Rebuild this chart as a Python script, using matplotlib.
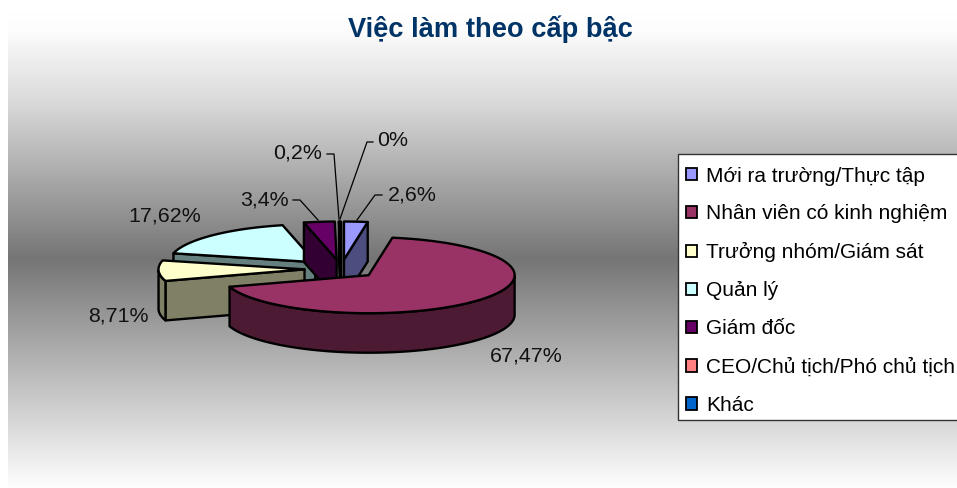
import numpy as np
import matplotlib
matplotlib.use('Agg')
import matplotlib.pyplot as plt
from matplotlib.patches import Polygon, Patch, Rectangle

plt.rcParams['font.family'] = ['Liberation Sans', 'DejaVu Sans']

# ── Data ──────────────────────────────────────────────────────────────────────
categories = ['Mới ra trường/Thực tập', 'Nhân viên có kinh nghiệm',
              'Trưởng nhóm/Giám sát', 'Quản lý', 'Giám đốc',
              'CEO/Chủ tịch/Phó chủ tịch', 'Khác']
values = [2.6, 67.47, 8.71, 17.62, 3.4, 0.2, 0.0]
value_labels = ['2,6%', '67,47%', '8,71%', '17,62%', '3,4%', '0,2%', '0%']
colors = ['#9999FF', '#993366', '#FFFFCC', '#CCFFFF', '#660066', '#FF8080', '#0066CC']
sides = ['#4D4D80', '#4D1A33', '#808066', '#668080', '#330033', '#000000', '#003366']

# ── Layout (pixels, y downward) ───────────────────────────────────────────────
W, H = 957, 488
CX, CY = 341, 269
RX, RY = 146, 38
DEPTH = 39.5
EXPLODE = 0.25
LABEL_SIZE = 15.4
LEGEND_SIZE = 15.0

fig = plt.figure(figsize=(W / 100, H / 100), dpi=100)
ax = fig.add_axes([0, 0, 1, 1])

# background gradient, white at top and bottom, grey in the middle
ys = np.arange(12, H)
grad = np.interp(ys, [12, 30, 50, 100, 258, 380, 487],
                 [254, 252, 241, 218, 117, 190, 253]).reshape(-1, 1)
ax.imshow(grad, cmap='gray', vmin=0, vmax=255, aspect='auto',
          extent=(8, W, H, 12), zorder=0)
ax.set_xlim(0, W)
ax.set_ylim(H, 0)
ax.axis('off')


def pt(cx, cy, a):
    return cx + RX * np.sin(a), cy - RY * np.cos(a)


# ── Pie slices from the values ────────────────────────────────────────────────
edges = np.radians(np.concatenate([[0], np.cumsum(values)]) * 3.6)
slices = []
for i, v in enumerate(values):
    a0, a1 = edges[i], edges[i + 1]
    mid = (a0 + a1) / 2
    cx = CX + EXPLODE * RX * np.sin(mid)
    cy = CY - EXPLODE * RY * np.cos(mid)
    slices.append((i, a0, a1, cx, cy))

# back slices first, front ones over them
draw_order = [3, 4, 5, 0, 2, 1]
z = 2
for i, a0, a1, cx, cy in [slices[k] for k in draw_order]:
    arc = np.linspace(a0, a1, max(int(np.degrees(a1 - a0)), 2))
    ax_, ay_ = pt(cx, cy, arc)
    ec = dict(edgecolor='black', linewidth=1.7, joinstyle='round')

    # cut faces that look towards the viewer
    for a, show in ((a0, np.sin(a0) < 0), (a1, np.sin(a1) > 0)):
        if show:
            ex, ey = pt(cx, cy, a)
            ax.add_patch(Polygon([(cx, cy), (ex, ey), (ex, ey + DEPTH), (cx, cy + DEPTH)],
                                 facecolor=sides[i], zorder=z, **ec))
    # outer wall, front half only
    front = np.cos(arc) <= 0
    if front.any():
        fx, fy = ax_[front], ay_[front]
        wall = np.column_stack([np.r_[fx, fx[::-1]], np.r_[fy, fy[::-1] + DEPTH]])
        ax.add_patch(Polygon(wall, facecolor=sides[i], zorder=z, **ec))
    top = np.column_stack([np.r_[cx, ax_], np.r_[cy, ay_]])
    ax.add_patch(Polygon(top, facecolor=colors[i], zorder=z + 0.5, **ec))
    z += 1

# ── Value labels and leader lines ─────────────────────────────────────────────
label_pos = [(412, 195), (526, 356), (118, 316), (165, 216), (264, 200), (298, 153), (393, 141)]
leaders = {0: [(382, 195), (375, 195), (357, 220)],
           4: [(293, 200), (300, 200), (318, 220)],
           5: [(327, 154), (334, 154), (339, 219)],
           6: [(373, 142), (367, 142), (340, 219)]}
for i, lab in enumerate(value_labels):
    ax.text(label_pos[i][0], label_pos[i][1], lab, fontsize=LABEL_SIZE, color='#111111',
            ha='center', va='center', zorder=20)
    if i in leaders:
        xs, ys_ = zip(*leaders[i])
        ax.plot(xs, ys_, color='black', lw=0.9, zorder=19)

ax.text(490.5, 29, 'Việc làm theo cấp bậc', fontsize=19.6, fontweight='bold',
        color='#003366', ha='center', va='center', zorder=20)

# ── Legend: frame drawn apart so it can run off the right edge ────────────────
ax.add_patch(Rectangle((678, 154), W + 10 - 678, 266, facecolor='white',
                       edgecolor='#333333', linewidth=1.0, zorder=24))
handles = [Patch(facecolor=c, edgecolor='black', linewidth=1.3) for c in colors]
leg = ax.legend(handles, categories, loc='upper left', bbox_to_anchor=(686 / W, 1 - 166.5 / H),
                bbox_transform=fig.transFigure, borderaxespad=0, borderpad=0, fontsize=LEGEND_SIZE,
                labelspacing=0.91, handlelength=0.55, handleheight=0.55, handletextpad=0.40,
                frameon=False)
leg.set_zorder(25)

fig.savefig('out.png', dpi=100)
